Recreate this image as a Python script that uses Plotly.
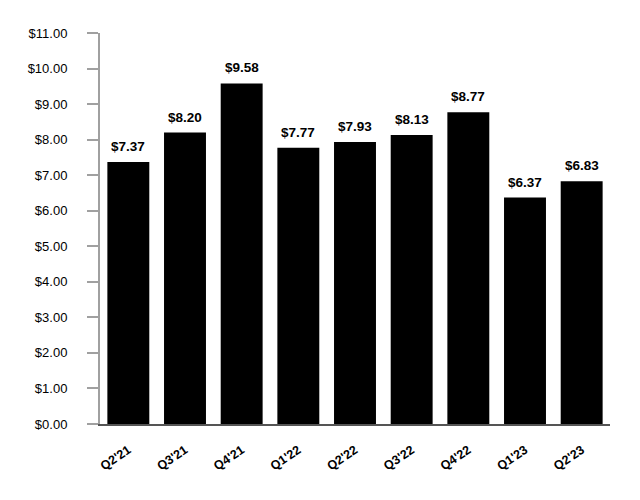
import plotly.graph_objects as go

quarters = ["Q2'21", "Q3'21", "Q4'21", "Q1'22", "Q2'22", "Q3'22", "Q4'22", "Q1'23", "Q2'23"]
values = [7.37, 8.20, 9.58, 7.77, 7.93, 8.13, 8.77, 6.37, 6.83]
y_ticks = [0, 1, 2, 3, 4, 5, 6, 7, 8, 9, 10, 11]
y_tick_labels = ["$%.2f" % v for v in y_ticks]
bar_labels = ["$%.2f" % v for v in values]

FONT = "Liberation Sans, Arial"

fig = go.Figure(go.Bar(
    x=quarters, y=values, marker_color="black", marker_line_width=0,
    width=0.74, cliponaxis=False,
))
for q, v, t in zip(quarters, values, bar_labels):
    fig.add_annotation(x=q, y=v, text="<b>%s</b>" % t, showarrow=False,
                       yanchor="bottom", yshift=6,
                       font=dict(family=FONT, size=13.5, color="black"))
fig.update_layout(
    width=632, height=492, plot_bgcolor="white", paper_bgcolor="white",
    margin=dict(l=92, r=30, t=25, b=76),
    font=dict(family=FONT, size=13.5, color="black"),
    showlegend=False,
)
fig.update_yaxes(range=[0, 11], tickvals=y_ticks, ticktext=y_tick_labels,
                 tickfont=dict(size=13),
                 showgrid=False, showline=True, linecolor="#a0a0a0", linewidth=2,
                 ticks="outside", ticklen=11, tickcolor="#a0a0a0", tickwidth=2,
                 ticklabelstandoff=17, zeroline=False, automargin=False)
fig.update_xaxes(range=[-0.5, 8.5], showline=True, linecolor="#555555", linewidth=2,
                 tickangle=-34, tickfont=dict(size=12.5, weight="bold"), ticks="",
                 ticklabelstandoff=12, showgrid=False, automargin=False)
fig.write_html("out.html")
